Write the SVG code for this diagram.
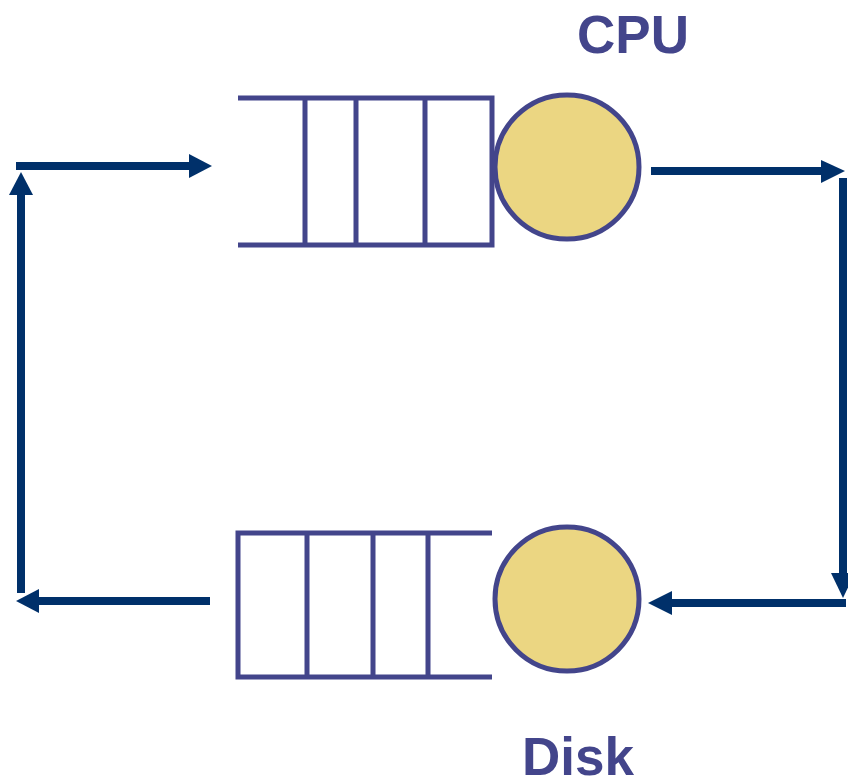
<svg xmlns="http://www.w3.org/2000/svg" width="848" height="779" viewBox="0 0 848 779">
<style>
.q{fill:none;stroke:#43458b;stroke-width:5}
.srv{fill:#ebd682;stroke:#43458b;stroke-width:5}
.lbl{font-family:"Liberation Sans",Arial,sans-serif;font-weight:bold;font-size:53px;fill:#43458b}
.c{stroke:#00306a;stroke-width:8;fill:none}
.h{fill:#00306a}
</style>
<rect width="848" height="779" fill="#ffffff"/>
<g id="cpu">
<path class="q" d="M238 98H492V245H238M305 98V245M356 98V245M425 98V245M492 98V245"/>
<circle class="srv" cx="567" cy="167" r="72"/>
<text class="lbl" x="577" y="53">CPU</text>
</g>
<g id="disk">
<path class="q" d="M492 533H238V677H492M307 533V677M373 533V677M428 533V677"/>
<circle class="srv" cx="567" cy="599" r="72"/>
<text class="lbl" x="522" y="775">Disk</text>
</g>
<g id="connectors">
<path class="c" d="M16 166H190"/>
<polygon class="h" points="212,166 189,154 189,178"/>
<path class="c" d="M651 171H822"/>
<polygon class="h" points="845,171 821,160 821,183"/>
<path class="c" d="M843 178V575"/>
<polygon class="h" points="843,598 831,573 855,573"/>
<path class="c" d="M846 603H671"/>
<polygon class="h" points="648,603 672,591 672,615"/>
<path class="c" d="M210 601H38"/>
<polygon class="h" points="16,601 39,589 39,613"/>
<path class="c" d="M21 593V194"/>
<polygon class="h" points="21,172 9,195 33,195"/>
</g>
</svg>
